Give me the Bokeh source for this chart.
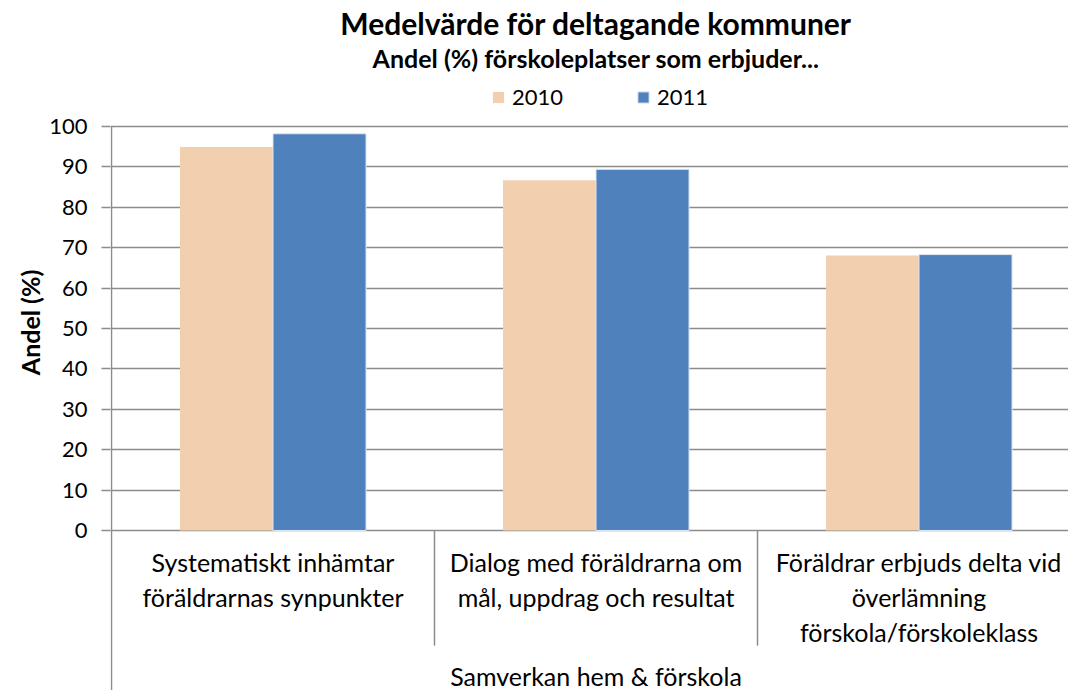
import math
from bokeh.plotting import figure
from bokeh.layouts import row
from bokeh.models import ColumnDataSource, Range1d, FixedTicker, Legend, LegendItem
from bokeh.transform import dodge
from bokeh.core.properties import value
from bokeh.embed import file_html
from bokeh.resources import INLINE

# ---- data ----
categories = ["Systematiskt inhämtar\nföräldrarnas synpunkter",
              "Dialog med föräldrarna om\nmål, uppdrag och resultat",
              "Föräldrar erbjuds delta vid\növerlämning\nförskola/förskoleklass"]
group_label = "Samverkan hem & förskola"
values_2010 = [94.9, 86.7, 68.1]
values_2011 = [98.2, 89.4, 68.3]
series_names = ["2010", "2011"]
y_ticks = [0, 10, 20, 30, 40, 50, 60, 70, 80, 90, 100]
title_text = "Medelvärde för deltagande kommuner"
subtitle_text = "Andel (%) förskoleplatser som erbjuder..."
y_axis_title = "Andel (%)"

FONT = "Lato"
C2010 = "#F2CFAF"
C2011 = "#4F81BD"
GRID = "#8C8C8C"
TXT = "#000000"

H = 690
yr = Range1d(-39.6, 131.19)
xr = Range1d(-0.0031, 2.9628)

centers = [i + 0.5 for i in range(len(categories))]
mid_x = sum(centers) / len(centers)
src = ColumnDataSource(dict(x=centers, v2010=values_2010, v2011=values_2011))

p = figure(width=1022, height=H, output_backend="svg", toolbar_location=None,
           x_range=xr, y_range=yr,
           min_border_left=64, min_border_top=0, min_border_right=0,
           min_border_bottom=0)
p.outline_line_color = None
p.xaxis.visible = False
p.xgrid.visible = False

yt = FixedTicker(ticks=y_ticks)
p.yaxis.ticker = yt
p.ygrid.ticker = yt
p.ygrid.grid_line_color = GRID
p.ygrid.grid_line_width = 1.5
p.yaxis.axis_line_color = None
p.yaxis.major_tick_line_color = GRID
p.yaxis.major_tick_line_width = 1.5
p.yaxis.major_tick_out = 9
p.yaxis.major_tick_in = 0
p.yaxis.minor_tick_line_color = None
p.yaxis.major_label_text_font = FONT
p.yaxis.major_label_text_font_size = "22px"
p.yaxis.major_label_text_color = TXT
p.yaxis.major_label_standoff = 14

# value axis line (from the top of the scale down to the bottom of the category area)
p.segment(x0=[0], y0=[max(y_ticks)], x1=[0], y1=[yr.start],
          line_color=GRID, line_width=1.5)

w = 0.288
r1 = p.vbar(x=dodge("x", -w / 2, range=p.x_range), top="v2010", width=w, source=src,
            fill_color=C2010, line_color=None)
r2 = p.vbar(x=dodge("x", w / 2, range=p.x_range), top="v2011", width=w, source=src,
            fill_color=C2011, line_color="#DCE6F2", line_width=1)

# category dividers
div_x = [float(i) for i in range(1, len(categories))]
p.segment(x0=div_x, y0=[0] * len(div_x), x1=div_x, y1=[-28.5] * len(div_x),
          line_color=GRID, line_width=1.5)

# category labels
lx, ly, lt = [], [], []
for c, lab in zip(centers, categories):
    for j, line in enumerate(lab.split("\n")):
        lx.append(c)
        ly.append(-7.9 - 8.66 * j)
        lt.append(line)
p.text(x=lx, y=ly, text=lt, text_align="center", text_baseline="middle",
       text_font=value(FONT), text_font_size="25px", text_color=TXT)
p.text(x=[mid_x], y=[-35.9], text=[group_label],
       text_align="center", text_baseline="middle",
       text_font=value(FONT), text_font_size="25px", text_color=TXT)

# titles
p.text(x=[1.5], y=[125.7], text=[title_text], text_align="center",
       text_baseline="middle", text_font=value(FONT), text_font_size="30px",
       text_font_style="bold", text_color=TXT)
p.text(x=[1.5], y=[117.0], text=[subtitle_text], text_align="center",
       text_baseline="middle", text_font=value(FONT), text_font_size="25px",
       text_font_style="bold", text_color=TXT)

legend = Legend(items=[LegendItem(label=series_names[0], renderers=[r1]),
                       LegendItem(label=series_names[1], renderers=[r2])],
                location=(381, 580), orientation="horizontal",
                glyph_width=14, glyph_height=14, label_standoff=7, spacing=73,
                padding=0, margin=0, border_line_color=None,
                background_fill_alpha=0, label_text_font=FONT,
                label_text_font_size="22px", label_text_color=TXT)
p.add_layout(legend, "center")

# narrow panel holding the value-axis title, sharing the y scale
lf = figure(width=46, height=H, output_backend="svg", toolbar_location=None,
            x_range=Range1d(0, 1), y_range=yr, x_axis_type=None, y_axis_type=None,
            min_border_left=0, min_border_top=0, min_border_right=0,
            min_border_bottom=0)
lf.outline_line_color = None
lf.grid.visible = False
lf.text(x=[29 / 46], y=[(max(y_ticks) + min(y_ticks)) / 2 + 1.5], text=[y_axis_title],
        angle=math.pi / 2, text_align="center", text_baseline="middle",
        text_font=value(FONT), text_font_size="25px", text_font_style="bold",
        text_color=TXT)

layout = row(lf, p, spacing=0)
open("out.html", "w").write(file_html(layout, INLINE))
